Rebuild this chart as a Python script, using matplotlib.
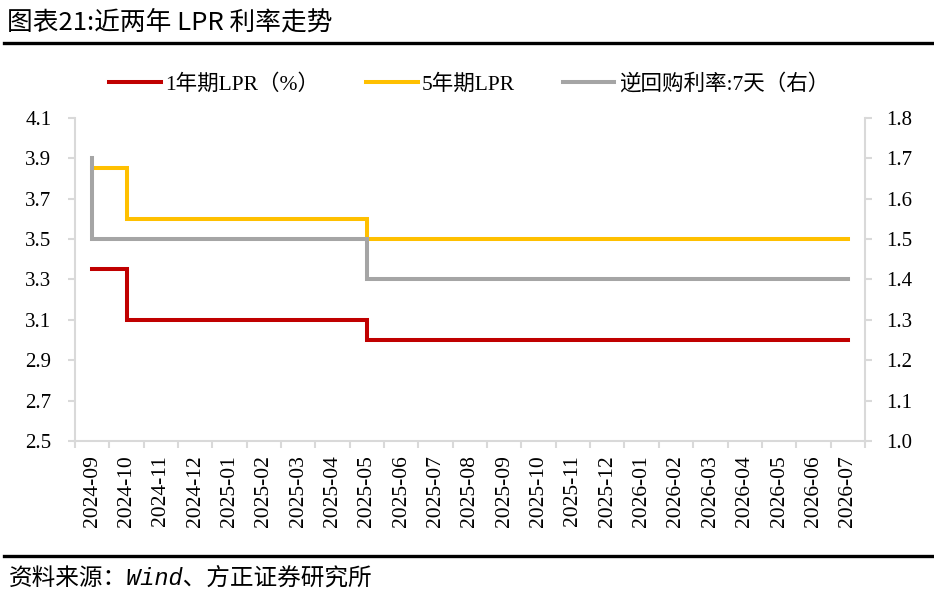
import matplotlib
matplotlib.use('Agg')
import matplotlib.pyplot as plt
from matplotlib.lines import Line2D

months = ['2024-09', '2024-10', '2024-11', '2024-12', '2025-01', '2025-02',
          '2025-03', '2025-04', '2025-05', '2025-06', '2025-07', '2025-08',
          '2025-09', '2025-10', '2025-11', '2025-12', '2026-01', '2026-02',
          '2026-03', '2026-04', '2026-05', '2026-06', '2026-07']

# 月末值；月初值取上月月末，首月单独给出
lpr_1y = [3.35, 3.10, 3.10, 3.10, 3.10, 3.10, 3.10, 3.10, 3.00, 3.00, 3.00, 3.00,
          3.00, 3.00, 3.00, 3.00, 3.00, 3.00, 3.00, 3.00, 3.00, 3.00, 3.00]
lpr_5y = [3.85, 3.60, 3.60, 3.60, 3.60, 3.60, 3.60, 3.60, 3.50, 3.50, 3.50, 3.50,
          3.50, 3.50, 3.50, 3.50, 3.50, 3.50, 3.50, 3.50, 3.50, 3.50, 3.50]
rr_7d = [1.50, 1.50, 1.50, 1.50, 1.50, 1.50, 1.50, 1.50, 1.40, 1.40, 1.40, 1.40,
         1.40, 1.40, 1.40, 1.40, 1.40, 1.40, 1.40, 1.40, 1.40, 1.40, 1.40]
start_vals = {'lpr_1y': 3.35, 'lpr_5y': 3.85, 'rr_7d': 1.70}

names = ['1年期LPR（%）', '5年期LPR', '逆回购利率:7天（右）']
colors = ['#C00000', '#FFC000', '#A5A5A5']

SERIF = ['Liberation Serif', 'Noto Sans CJK SC']
CJK = ['Noto Sans CJK SC', 'DejaVu Sans']
GRID = '#D9D9D9'

plt.rcParams['font.family'] = SERIF


def step_path(start, values):
    xs, ys = [], []
    prev = start
    for i, v in enumerate(values):
        xs += [i, i]
        ys += [prev, v]
        prev = v
    return xs, ys


fig = plt.figure(figsize=(9.34, 6.01), dpi=100)
ax = fig.add_axes([0.0803, 0.2662, 0.926 - 0.0803, 0.8037 - 0.2662])
ax2 = ax.twinx()

x, y = step_path(start_vals['lpr_1y'], lpr_1y)
ax.plot(x, y, color=colors[0], lw=2.9, solid_joinstyle='miter')
x, y = step_path(start_vals['lpr_5y'], lpr_5y)
ax.plot(x, y, color=colors[1], lw=2.9, solid_joinstyle='miter')
x, y = step_path(start_vals['rr_7d'], rr_7d)
ax2.plot(x, y, color=colors[2], lw=2.9, solid_joinstyle='miter')

n = len(months)
ax.set_xlim(-0.5, n - 0.5)
ax.set_ylim(2.5, 4.1)
ax2.set_ylim(1.0, 1.8)

left_ticks = [2.5 + 0.2 * i for i in range(9)]
right_ticks = [1.0 + 0.1 * i for i in range(9)]
ax.set_yticks(left_ticks)
ax.set_yticklabels([f'{v:.1f}' for v in left_ticks], fontsize=15)
ax2.set_yticks(right_ticks)
ax2.set_yticklabels([f'{v:.1f}' for v in right_ticks], fontsize=15)

ax.set_xticks([i - 0.5 for i in range(n + 1)])
ax.set_xticklabels([])
ax.set_xticks(range(n), minor=True)
ax.set_xticklabels(months, minor=True, rotation=90, fontsize=15.5)

for a in (ax, ax2):
    a.spines['top'].set_visible(False)
    for side in ('left', 'right', 'bottom'):
        a.spines[side].set_color(GRID)
        a.spines[side].set_linewidth(1.5)
ax.spines['right'].set_visible(False)
ax2.spines['left'].set_visible(False)
ax2.spines['bottom'].set_visible(False)

ax.tick_params(axis='y', direction='out', length=5, width=1.5, color=GRID, pad=12)
ax2.tick_params(axis='y', direction='out', length=5, width=1.5, color=GRID, pad=10)
ax.tick_params(axis='x', which='major', direction='out', length=5, width=1.5, color=GRID)
ax.tick_params(axis='x', which='minor', length=0, pad=10)

handles = [Line2D([], [], color=c, lw=2.9) for c in colors]
fig.legend(handles, names, loc='center', bbox_to_anchor=(0.502, 0.86), ncol=3,
           frameon=False, prop={'family': SERIF, 'size': 15.5},
           handlelength=2.4, handletextpad=0.2, columnspacing=2.2)

fig.text(0.008, 0.963, '图表21:近两年 LPR 利率走势', fontfamily=CJK, fontsize=18.5,
         fontweight='medium', va='center', ha='left')
fig.add_artist(Line2D([0.004, 1.0], [0.929, 0.929], color='black', lw=2.4,
                      transform=fig.transFigure))
fig.add_artist(Line2D([0.004, 1.0], [0.075, 0.075], color='black', lw=2.4,
                      transform=fig.transFigure))
fig.text(0.01, 0.038, '资料来源：Wind、方正证券研究所',
         fontfamily=['Liberation Mono', 'Noto Sans CJK SC'], fontsize=17,
         fontstyle='italic', va='center', ha='left')

fig.savefig('out.png', dpi=100)
